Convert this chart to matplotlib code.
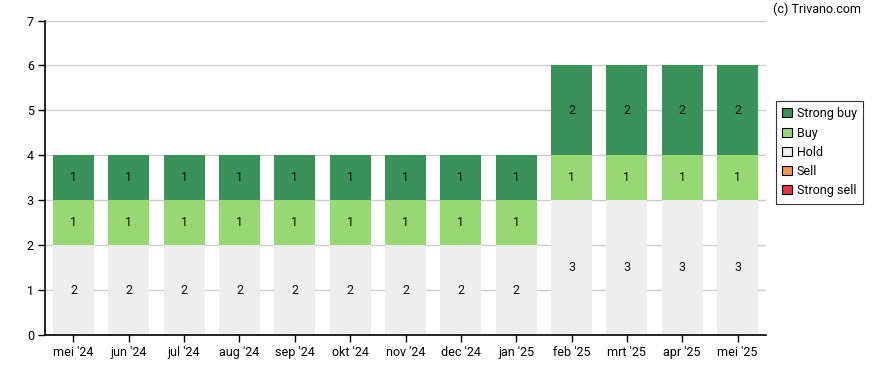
import matplotlib
matplotlib.use("Agg")
import matplotlib.pyplot as plt
import numpy as np
from matplotlib.patches import Patch

plt.rcParams["font.family"] = ["Roboto", "DejaVu Sans"]

months = ["mei '24", "jun '24", "jul '24", "aug '24", "sep '24", "okt '24", "nov '24",
          "dec '24", "jan '25", "feb '25", "mrt '25", "apr '25", "mei '25"]
strong_sell = [0, 0, 0, 0, 0, 0, 0, 0, 0, 0, 0, 0, 0]
sell = [0, 0, 0, 0, 0, 0, 0, 0, 0, 0, 0, 0, 0]
hold = [2, 2, 2, 2, 2, 2, 2, 2, 2, 3, 3, 3, 3]
buy = [1, 1, 1, 1, 1, 1, 1, 1, 1, 1, 1, 1, 1]
strong_buy = [1, 1, 1, 1, 1, 1, 1, 1, 1, 2, 2, 2, 2]

series = [
    ("Strong sell", strong_sell, "#e8333f"),
    ("Sell", sell, "#f79556"),
    ("Hold", hold, "#eeeeee"),
    ("Buy", buy, "#98d873"),
    ("Strong buy", strong_buy, "#38925a"),
]

fig = plt.figure(figsize=(8.88, 3.70), dpi=100)
ax = fig.add_axes([45 / 888, 35 / 370, 721 / 888, 314.5 / 370])

x = np.arange(len(months))
bottom = np.zeros(len(months))
for name, vals, color in series:
    vals = np.array(vals, dtype=float)
    ax.bar(x, vals, bottom=bottom, width=0.74, color=color, zorder=2)
    for xi, v, b in zip(x, vals, bottom):
        if v > 0:
            ax.text(xi, b + v / 2, str(int(v)), ha="center", va="center",
                    fontsize=9, color="#111111", zorder=3)
    bottom += vals

ax.set_xlim(-0.515, 12.515)
ax.set_ylim(0, 7)
ax.set_yticks(range(0, 8))
ax.set_xticks(x)
ax.set_xticklabels(months)
ax.tick_params(axis="both", labelsize=9, length=5, width=1, color="black", pad=3)
ax.yaxis.grid(True, color="#cccccc", linewidth=1, zorder=0)
ax.set_axisbelow(True)
for s in ["top", "right"]:
    ax.spines[s].set_visible(False)
ax.spines["left"].set_linewidth(1.2)
ax.spines["bottom"].set_linewidth(1.2)

# legend box sits right of the plot, square corners, thin black frame
handles = [Patch(facecolor=c, edgecolor="black", linewidth=0.8, label=n)
           for n, _, c in reversed(series)]
leg = fig.legend(handles=handles, loc="upper left", bbox_to_anchor=(776 / 888, 1 - 101 / 370),
                 fontsize=9, frameon=True, fancybox=False, handlelength=0.75, handleheight=0.75,
                 handletextpad=0.4, borderpad=0.5, labelspacing=0.5, borderaxespad=0)
leg.get_frame().set_edgecolor("black")
leg.get_frame().set_linewidth(0.8)

fig.text(773 / 888, 1 - 9 / 370, "(c) Trivano.com", fontsize=9, ha="left", va="center")

fig.savefig("out.png", dpi=100)
